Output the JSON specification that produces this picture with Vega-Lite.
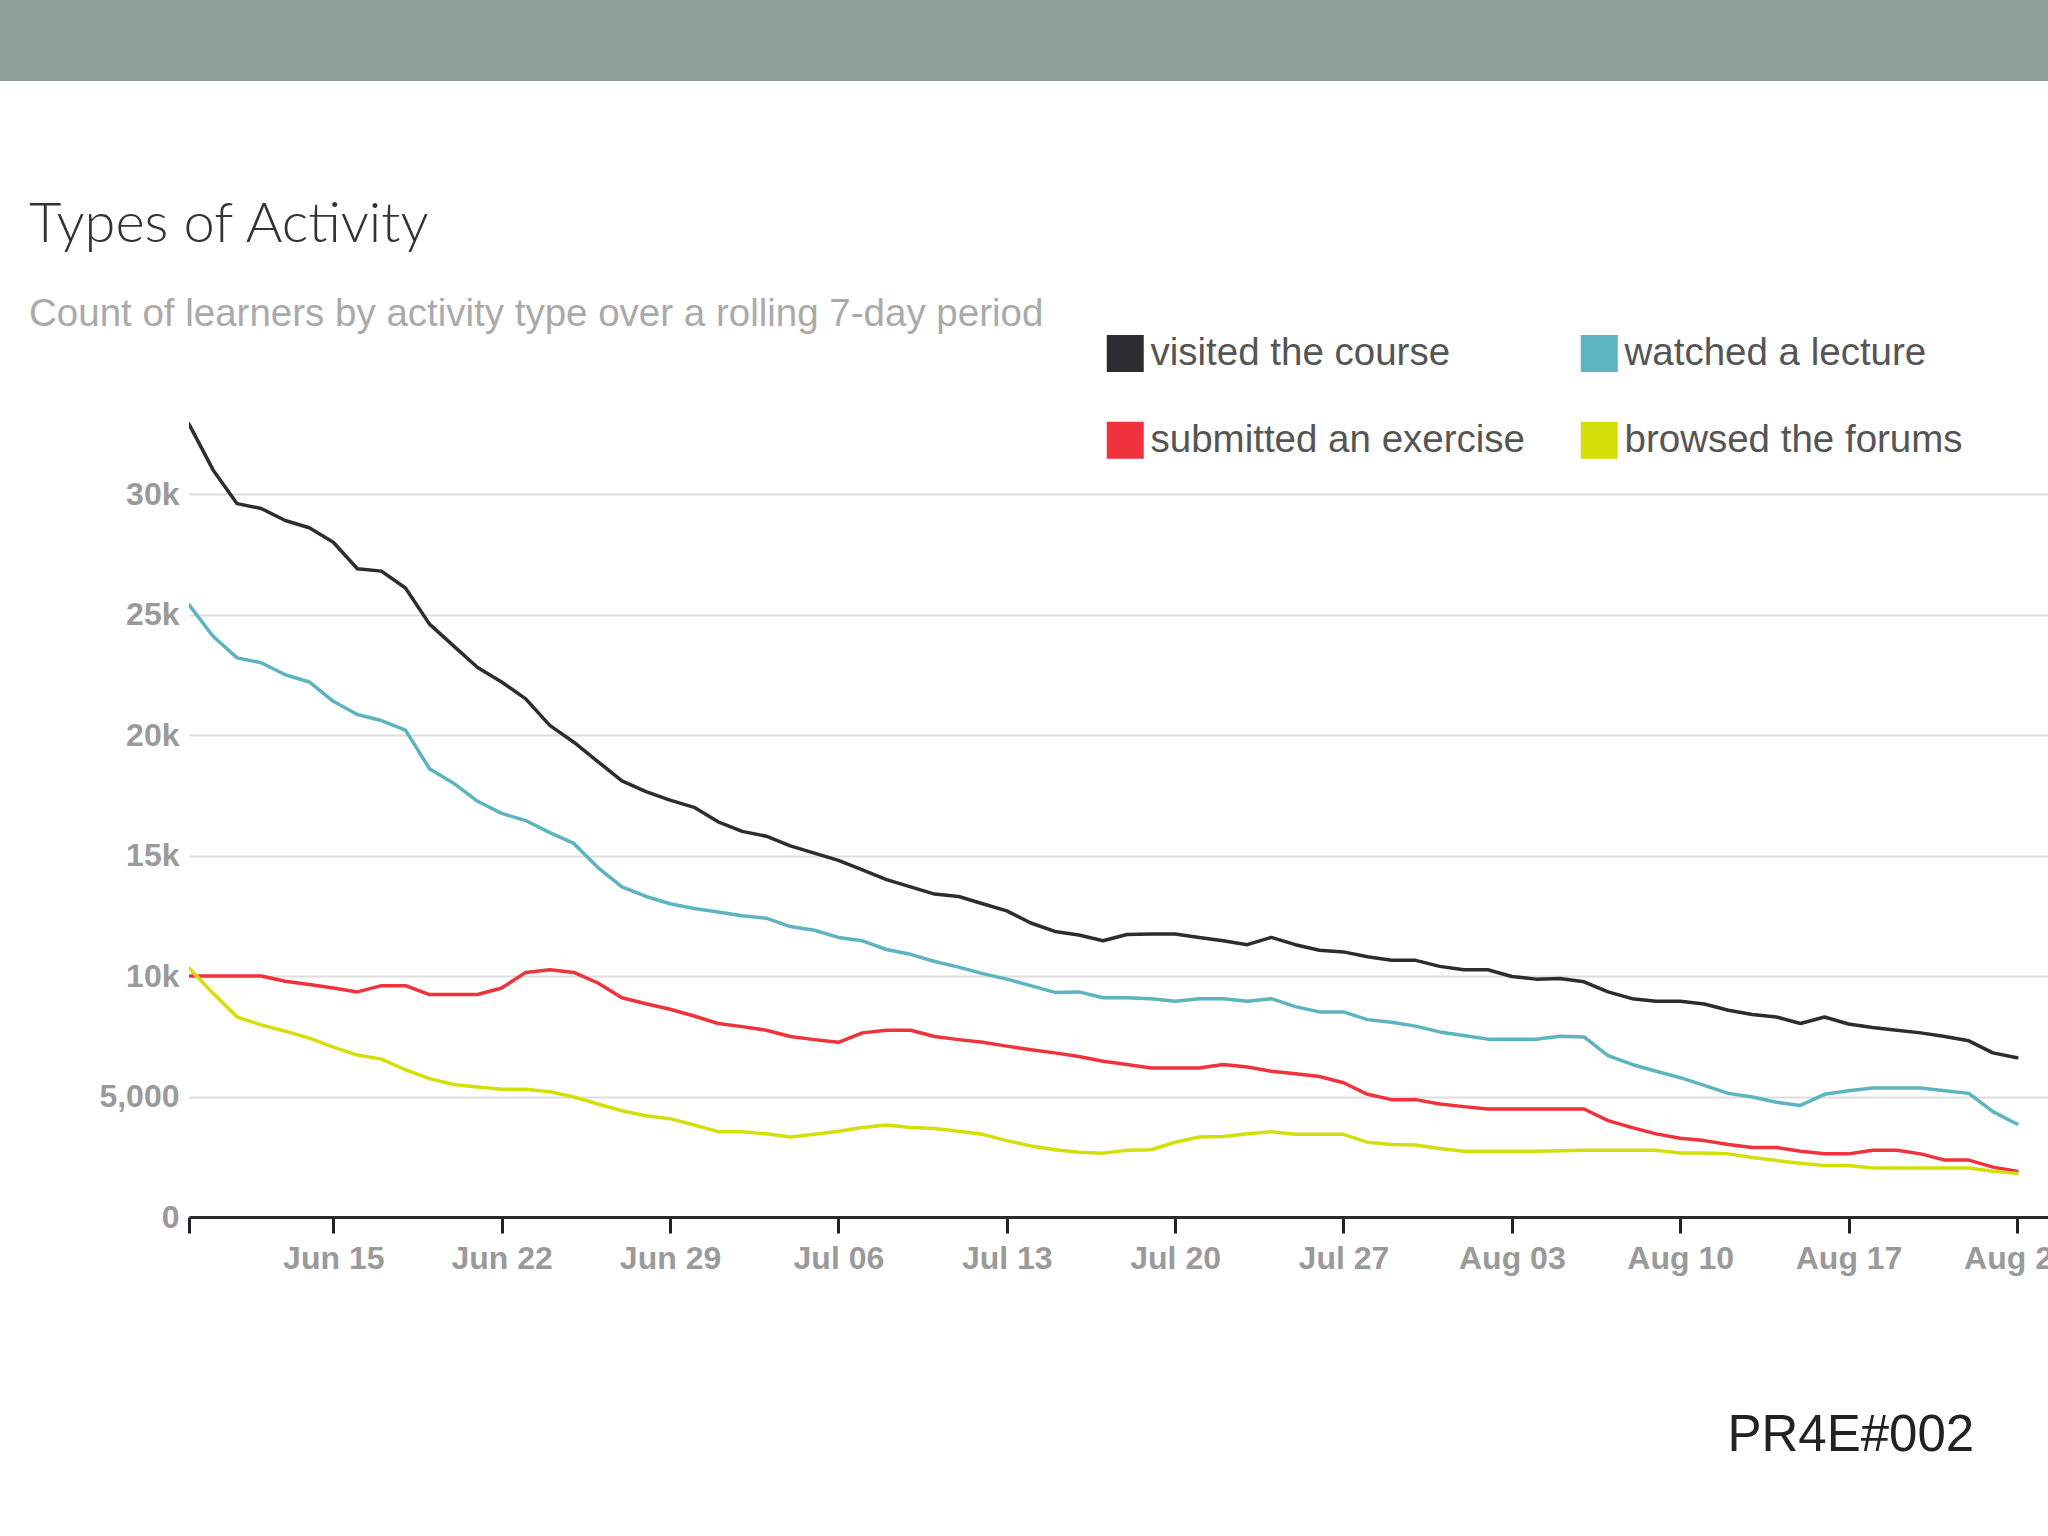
{
  "$schema": "https://vega.github.io/schema/vega-lite/v6.json",
  "padding": 0,
  "background": "#ffffff",
  "columns": 2,
  "spacing": {"row": 316, "column": 0},
  "bounds": "flush",
  "align": "each",
  "resolve": {"legend": {"color": "independent"}},
  "config": {"view": {"stroke": null}, "font": "Liberation Sans"},
  "concat": [
    {
      "width": 189,
      "height": 81,
      "view": {"fill": "#8f9f98", "stroke": null},
      "data": {"values": [{"t": ""}]},
      "mark": {"type": "text"},
      "encoding": {"text": {"field": "t", "type": "nominal"}}
    },
    {
      "width": 1859,
      "height": 81,
      "view": {"fill": "#8f9f98", "stroke": null},
      "data": {"values": [{"t": ""}]},
      "mark": {"type": "text"},
      "encoding": {"text": {"field": "t", "type": "nominal"}}
    },
    {
      "width": 189,
      "height": 1,
      "view": {"stroke": null},
      "data": {"values": [{"t": ""}]},
      "mark": {"type": "text"},
      "encoding": {"text": {"field": "t", "type": "nominal"}}
    },
    {
      "width": 1859,
      "height": 820,
      "title": {
        "text": "Types of Activity",
        "subtitle": "Count of learners by activity type over a rolling 7-day period",
        "anchor": "start",
        "frame": "group",
        "dx": -160,
        "offset": 0,
        "font": "Lato",
        "fontSize": 56,
        "fontWeight": 300,
        "color": "#333333",
        "subtitleFont": "Liberation Sans",
        "subtitleFontSize": 38.5,
        "subtitleColor": "#aaaaaa",
        "subtitlePadding": 42
      },
      "data": {
        "values": [
          {"date": "2015-06-09", "activity": "visited the course", "learners": 32900},
          {"date": "2015-06-10", "activity": "visited the course", "learners": 31000},
          {"date": "2015-06-11", "activity": "visited the course", "learners": 29600},
          {"date": "2015-06-12", "activity": "visited the course", "learners": 29400},
          {"date": "2015-06-13", "activity": "visited the course", "learners": 28900},
          {"date": "2015-06-14", "activity": "visited the course", "learners": 28600},
          {"date": "2015-06-15", "activity": "visited the course", "learners": 28000},
          {"date": "2015-06-16", "activity": "visited the course", "learners": 26900},
          {"date": "2015-06-17", "activity": "visited the course", "learners": 26800},
          {"date": "2015-06-18", "activity": "visited the course", "learners": 26100},
          {"date": "2015-06-19", "activity": "visited the course", "learners": 24600},
          {"date": "2015-06-20", "activity": "visited the course", "learners": 23700},
          {"date": "2015-06-21", "activity": "visited the course", "learners": 22800},
          {"date": "2015-06-22", "activity": "visited the course", "learners": 22200},
          {"date": "2015-06-23", "activity": "visited the course", "learners": 21500},
          {"date": "2015-06-24", "activity": "visited the course", "learners": 20400},
          {"date": "2015-06-25", "activity": "visited the course", "learners": 19700},
          {"date": "2015-06-26", "activity": "visited the course", "learners": 18900},
          {"date": "2015-06-27", "activity": "visited the course", "learners": 18100},
          {"date": "2015-06-28", "activity": "visited the course", "learners": 17650},
          {"date": "2015-06-29", "activity": "visited the course", "learners": 17300},
          {"date": "2015-06-30", "activity": "visited the course", "learners": 17000},
          {"date": "2015-07-01", "activity": "visited the course", "learners": 16400},
          {"date": "2015-07-02", "activity": "visited the course", "learners": 16000},
          {"date": "2015-07-03", "activity": "visited the course", "learners": 15800},
          {"date": "2015-07-04", "activity": "visited the course", "learners": 15400},
          {"date": "2015-07-05", "activity": "visited the course", "learners": 15100},
          {"date": "2015-07-06", "activity": "visited the course", "learners": 14800},
          {"date": "2015-07-07", "activity": "visited the course", "learners": 14400},
          {"date": "2015-07-08", "activity": "visited the course", "learners": 14000},
          {"date": "2015-07-09", "activity": "visited the course", "learners": 13700},
          {"date": "2015-07-10", "activity": "visited the course", "learners": 13400},
          {"date": "2015-07-11", "activity": "visited the course", "learners": 13300},
          {"date": "2015-07-12", "activity": "visited the course", "learners": 13000},
          {"date": "2015-07-13", "activity": "visited the course", "learners": 12700},
          {"date": "2015-07-14", "activity": "visited the course", "learners": 12200},
          {"date": "2015-07-15", "activity": "visited the course", "learners": 11850},
          {"date": "2015-07-16", "activity": "visited the course", "learners": 11700},
          {"date": "2015-07-17", "activity": "visited the course", "learners": 11460},
          {"date": "2015-07-18", "activity": "visited the course", "learners": 11720},
          {"date": "2015-07-19", "activity": "visited the course", "learners": 11740},
          {"date": "2015-07-20", "activity": "visited the course", "learners": 11740},
          {"date": "2015-07-21", "activity": "visited the course", "learners": 11600},
          {"date": "2015-07-22", "activity": "visited the course", "learners": 11460},
          {"date": "2015-07-23", "activity": "visited the course", "learners": 11300},
          {"date": "2015-07-24", "activity": "visited the course", "learners": 11600},
          {"date": "2015-07-25", "activity": "visited the course", "learners": 11300},
          {"date": "2015-07-26", "activity": "visited the course", "learners": 11070},
          {"date": "2015-07-27", "activity": "visited the course", "learners": 11000},
          {"date": "2015-07-28", "activity": "visited the course", "learners": 10800},
          {"date": "2015-07-29", "activity": "visited the course", "learners": 10650},
          {"date": "2015-07-30", "activity": "visited the course", "learners": 10650},
          {"date": "2015-07-31", "activity": "visited the course", "learners": 10400},
          {"date": "2015-08-01", "activity": "visited the course", "learners": 10260},
          {"date": "2015-08-02", "activity": "visited the course", "learners": 10260},
          {"date": "2015-08-03", "activity": "visited the course", "learners": 9980},
          {"date": "2015-08-04", "activity": "visited the course", "learners": 9870},
          {"date": "2015-08-05", "activity": "visited the course", "learners": 9900},
          {"date": "2015-08-06", "activity": "visited the course", "learners": 9760},
          {"date": "2015-08-07", "activity": "visited the course", "learners": 9340},
          {"date": "2015-08-08", "activity": "visited the course", "learners": 9060},
          {"date": "2015-08-09", "activity": "visited the course", "learners": 8950},
          {"date": "2015-08-10", "activity": "visited the course", "learners": 8950},
          {"date": "2015-08-11", "activity": "visited the course", "learners": 8840},
          {"date": "2015-08-12", "activity": "visited the course", "learners": 8580},
          {"date": "2015-08-13", "activity": "visited the course", "learners": 8400},
          {"date": "2015-08-14", "activity": "visited the course", "learners": 8300},
          {"date": "2015-08-15", "activity": "visited the course", "learners": 8030},
          {"date": "2015-08-16", "activity": "visited the course", "learners": 8300},
          {"date": "2015-08-17", "activity": "visited the course", "learners": 8010},
          {"date": "2015-08-18", "activity": "visited the course", "learners": 7860},
          {"date": "2015-08-19", "activity": "visited the course", "learners": 7750},
          {"date": "2015-08-20", "activity": "visited the course", "learners": 7640},
          {"date": "2015-08-21", "activity": "visited the course", "learners": 7490},
          {"date": "2015-08-22", "activity": "visited the course", "learners": 7310},
          {"date": "2015-08-23", "activity": "visited the course", "learners": 6810},
          {"date": "2015-08-24", "activity": "visited the course", "learners": 6610},

          {"date": "2015-06-09", "activity": "watched a lecture", "learners": 25400},
          {"date": "2015-06-10", "activity": "watched a lecture", "learners": 24100},
          {"date": "2015-06-11", "activity": "watched a lecture", "learners": 23200},
          {"date": "2015-06-12", "activity": "watched a lecture", "learners": 23000},
          {"date": "2015-06-13", "activity": "watched a lecture", "learners": 22500},
          {"date": "2015-06-14", "activity": "watched a lecture", "learners": 22200},
          {"date": "2015-06-15", "activity": "watched a lecture", "learners": 21400},
          {"date": "2015-06-16", "activity": "watched a lecture", "learners": 20850},
          {"date": "2015-06-17", "activity": "watched a lecture", "learners": 20600},
          {"date": "2015-06-18", "activity": "watched a lecture", "learners": 20200},
          {"date": "2015-06-19", "activity": "watched a lecture", "learners": 18600},
          {"date": "2015-06-20", "activity": "watched a lecture", "learners": 18000},
          {"date": "2015-06-21", "activity": "watched a lecture", "learners": 17250},
          {"date": "2015-06-22", "activity": "watched a lecture", "learners": 16750},
          {"date": "2015-06-23", "activity": "watched a lecture", "learners": 16450},
          {"date": "2015-06-24", "activity": "watched a lecture", "learners": 15950},
          {"date": "2015-06-25", "activity": "watched a lecture", "learners": 15500},
          {"date": "2015-06-26", "activity": "watched a lecture", "learners": 14500},
          {"date": "2015-06-27", "activity": "watched a lecture", "learners": 13700},
          {"date": "2015-06-28", "activity": "watched a lecture", "learners": 13300},
          {"date": "2015-06-29", "activity": "watched a lecture", "learners": 13000},
          {"date": "2015-06-30", "activity": "watched a lecture", "learners": 12800},
          {"date": "2015-07-01", "activity": "watched a lecture", "learners": 12660},
          {"date": "2015-07-02", "activity": "watched a lecture", "learners": 12500},
          {"date": "2015-07-03", "activity": "watched a lecture", "learners": 12400},
          {"date": "2015-07-04", "activity": "watched a lecture", "learners": 12050},
          {"date": "2015-07-05", "activity": "watched a lecture", "learners": 11900},
          {"date": "2015-07-06", "activity": "watched a lecture", "learners": 11600},
          {"date": "2015-07-07", "activity": "watched a lecture", "learners": 11460},
          {"date": "2015-07-08", "activity": "watched a lecture", "learners": 11100},
          {"date": "2015-07-09", "activity": "watched a lecture", "learners": 10900},
          {"date": "2015-07-10", "activity": "watched a lecture", "learners": 10600},
          {"date": "2015-07-11", "activity": "watched a lecture", "learners": 10370},
          {"date": "2015-07-12", "activity": "watched a lecture", "learners": 10100},
          {"date": "2015-07-13", "activity": "watched a lecture", "learners": 9870},
          {"date": "2015-07-14", "activity": "watched a lecture", "learners": 9600},
          {"date": "2015-07-15", "activity": "watched a lecture", "learners": 9320},
          {"date": "2015-07-16", "activity": "watched a lecture", "learners": 9340},
          {"date": "2015-07-17", "activity": "watched a lecture", "learners": 9100},
          {"date": "2015-07-18", "activity": "watched a lecture", "learners": 9100},
          {"date": "2015-07-19", "activity": "watched a lecture", "learners": 9060},
          {"date": "2015-07-20", "activity": "watched a lecture", "learners": 8950},
          {"date": "2015-07-21", "activity": "watched a lecture", "learners": 9060},
          {"date": "2015-07-22", "activity": "watched a lecture", "learners": 9060},
          {"date": "2015-07-23", "activity": "watched a lecture", "learners": 8950},
          {"date": "2015-07-24", "activity": "watched a lecture", "learners": 9060},
          {"date": "2015-07-25", "activity": "watched a lecture", "learners": 8730},
          {"date": "2015-07-26", "activity": "watched a lecture", "learners": 8510},
          {"date": "2015-07-27", "activity": "watched a lecture", "learners": 8510},
          {"date": "2015-07-28", "activity": "watched a lecture", "learners": 8190},
          {"date": "2015-07-29", "activity": "watched a lecture", "learners": 8080},
          {"date": "2015-07-30", "activity": "watched a lecture", "learners": 7920},
          {"date": "2015-07-31", "activity": "watched a lecture", "learners": 7680},
          {"date": "2015-08-01", "activity": "watched a lecture", "learners": 7530},
          {"date": "2015-08-02", "activity": "watched a lecture", "learners": 7380},
          {"date": "2015-08-03", "activity": "watched a lecture", "learners": 7380},
          {"date": "2015-08-04", "activity": "watched a lecture", "learners": 7380},
          {"date": "2015-08-05", "activity": "watched a lecture", "learners": 7500},
          {"date": "2015-08-06", "activity": "watched a lecture", "learners": 7470},
          {"date": "2015-08-07", "activity": "watched a lecture", "learners": 6700},
          {"date": "2015-08-08", "activity": "watched a lecture", "learners": 6330},
          {"date": "2015-08-09", "activity": "watched a lecture", "learners": 6050},
          {"date": "2015-08-10", "activity": "watched a lecture", "learners": 5780},
          {"date": "2015-08-11", "activity": "watched a lecture", "learners": 5460},
          {"date": "2015-08-12", "activity": "watched a lecture", "learners": 5130},
          {"date": "2015-08-13", "activity": "watched a lecture", "learners": 4980},
          {"date": "2015-08-14", "activity": "watched a lecture", "learners": 4760},
          {"date": "2015-08-15", "activity": "watched a lecture", "learners": 4630},
          {"date": "2015-08-16", "activity": "watched a lecture", "learners": 5090},
          {"date": "2015-08-17", "activity": "watched a lecture", "learners": 5240},
          {"date": "2015-08-18", "activity": "watched a lecture", "learners": 5350},
          {"date": "2015-08-19", "activity": "watched a lecture", "learners": 5350},
          {"date": "2015-08-20", "activity": "watched a lecture", "learners": 5350},
          {"date": "2015-08-21", "activity": "watched a lecture", "learners": 5240},
          {"date": "2015-08-22", "activity": "watched a lecture", "learners": 5130},
          {"date": "2015-08-23", "activity": "watched a lecture", "learners": 4370},
          {"date": "2015-08-24", "activity": "watched a lecture", "learners": 3860},

          {"date": "2015-06-09", "activity": "submitted an exercise", "learners": 10000},
          {"date": "2015-06-10", "activity": "submitted an exercise", "learners": 10000},
          {"date": "2015-06-11", "activity": "submitted an exercise", "learners": 10000},
          {"date": "2015-06-12", "activity": "submitted an exercise", "learners": 10000},
          {"date": "2015-06-13", "activity": "submitted an exercise", "learners": 9780},
          {"date": "2015-06-14", "activity": "submitted an exercise", "learners": 9650},
          {"date": "2015-06-15", "activity": "submitted an exercise", "learners": 9500},
          {"date": "2015-06-16", "activity": "submitted an exercise", "learners": 9340},
          {"date": "2015-06-17", "activity": "submitted an exercise", "learners": 9600},
          {"date": "2015-06-18", "activity": "submitted an exercise", "learners": 9600},
          {"date": "2015-06-19", "activity": "submitted an exercise", "learners": 9230},
          {"date": "2015-06-20", "activity": "submitted an exercise", "learners": 9230},
          {"date": "2015-06-21", "activity": "submitted an exercise", "learners": 9230},
          {"date": "2015-06-22", "activity": "submitted an exercise", "learners": 9500},
          {"date": "2015-06-23", "activity": "submitted an exercise", "learners": 10150},
          {"date": "2015-06-24", "activity": "submitted an exercise", "learners": 10260},
          {"date": "2015-06-25", "activity": "submitted an exercise", "learners": 10150},
          {"date": "2015-06-26", "activity": "submitted an exercise", "learners": 9710},
          {"date": "2015-06-27", "activity": "submitted an exercise", "learners": 9100},
          {"date": "2015-06-28", "activity": "submitted an exercise", "learners": 8850},
          {"date": "2015-06-29", "activity": "submitted an exercise", "learners": 8620},
          {"date": "2015-06-30", "activity": "submitted an exercise", "learners": 8340},
          {"date": "2015-07-01", "activity": "submitted an exercise", "learners": 8030},
          {"date": "2015-07-02", "activity": "submitted an exercise", "learners": 7900},
          {"date": "2015-07-03", "activity": "submitted an exercise", "learners": 7750},
          {"date": "2015-07-04", "activity": "submitted an exercise", "learners": 7490},
          {"date": "2015-07-05", "activity": "submitted an exercise", "learners": 7360},
          {"date": "2015-07-06", "activity": "submitted an exercise", "learners": 7250},
          {"date": "2015-07-07", "activity": "submitted an exercise", "learners": 7640},
          {"date": "2015-07-08", "activity": "submitted an exercise", "learners": 7750},
          {"date": "2015-07-09", "activity": "submitted an exercise", "learners": 7750},
          {"date": "2015-07-10", "activity": "submitted an exercise", "learners": 7490},
          {"date": "2015-07-11", "activity": "submitted an exercise", "learners": 7360},
          {"date": "2015-07-12", "activity": "submitted an exercise", "learners": 7250},
          {"date": "2015-07-13", "activity": "submitted an exercise", "learners": 7090},
          {"date": "2015-07-14", "activity": "submitted an exercise", "learners": 6940},
          {"date": "2015-07-15", "activity": "submitted an exercise", "learners": 6810},
          {"date": "2015-07-16", "activity": "submitted an exercise", "learners": 6660},
          {"date": "2015-07-17", "activity": "submitted an exercise", "learners": 6460},
          {"date": "2015-07-18", "activity": "submitted an exercise", "learners": 6330},
          {"date": "2015-07-19", "activity": "submitted an exercise", "learners": 6180},
          {"date": "2015-07-20", "activity": "submitted an exercise", "learners": 6180},
          {"date": "2015-07-21", "activity": "submitted an exercise", "learners": 6180},
          {"date": "2015-07-22", "activity": "submitted an exercise", "learners": 6330},
          {"date": "2015-07-23", "activity": "submitted an exercise", "learners": 6220},
          {"date": "2015-07-24", "activity": "submitted an exercise", "learners": 6050},
          {"date": "2015-07-25", "activity": "submitted an exercise", "learners": 5940},
          {"date": "2015-07-26", "activity": "submitted an exercise", "learners": 5830},
          {"date": "2015-07-27", "activity": "submitted an exercise", "learners": 5570},
          {"date": "2015-07-28", "activity": "submitted an exercise", "learners": 5090},
          {"date": "2015-07-29", "activity": "submitted an exercise", "learners": 4870},
          {"date": "2015-07-30", "activity": "submitted an exercise", "learners": 4870},
          {"date": "2015-07-31", "activity": "submitted an exercise", "learners": 4690},
          {"date": "2015-08-01", "activity": "submitted an exercise", "learners": 4580},
          {"date": "2015-08-02", "activity": "submitted an exercise", "learners": 4480},
          {"date": "2015-08-03", "activity": "submitted an exercise", "learners": 4480},
          {"date": "2015-08-04", "activity": "submitted an exercise", "learners": 4480},
          {"date": "2015-08-05", "activity": "submitted an exercise", "learners": 4480},
          {"date": "2015-08-06", "activity": "submitted an exercise", "learners": 4480},
          {"date": "2015-08-07", "activity": "submitted an exercise", "learners": 4000},
          {"date": "2015-08-08", "activity": "submitted an exercise", "learners": 3710},
          {"date": "2015-08-09", "activity": "submitted an exercise", "learners": 3450},
          {"date": "2015-08-10", "activity": "submitted an exercise", "learners": 3270},
          {"date": "2015-08-11", "activity": "submitted an exercise", "learners": 3170},
          {"date": "2015-08-12", "activity": "submitted an exercise", "learners": 3010},
          {"date": "2015-08-13", "activity": "submitted an exercise", "learners": 2880},
          {"date": "2015-08-14", "activity": "submitted an exercise", "learners": 2880},
          {"date": "2015-08-15", "activity": "submitted an exercise", "learners": 2730},
          {"date": "2015-08-16", "activity": "submitted an exercise", "learners": 2620},
          {"date": "2015-08-17", "activity": "submitted an exercise", "learners": 2620},
          {"date": "2015-08-18", "activity": "submitted an exercise", "learners": 2770},
          {"date": "2015-08-19", "activity": "submitted an exercise", "learners": 2770},
          {"date": "2015-08-20", "activity": "submitted an exercise", "learners": 2620},
          {"date": "2015-08-21", "activity": "submitted an exercise", "learners": 2360},
          {"date": "2015-08-22", "activity": "submitted an exercise", "learners": 2360},
          {"date": "2015-08-23", "activity": "submitted an exercise", "learners": 2070},
          {"date": "2015-08-24", "activity": "submitted an exercise", "learners": 1900},

          {"date": "2015-06-09", "activity": "browsed the forums", "learners": 10330},
          {"date": "2015-06-10", "activity": "browsed the forums", "learners": 9280},
          {"date": "2015-06-11", "activity": "browsed the forums", "learners": 8300},
          {"date": "2015-06-12", "activity": "browsed the forums", "learners": 7970},
          {"date": "2015-06-13", "activity": "browsed the forums", "learners": 7710},
          {"date": "2015-06-14", "activity": "browsed the forums", "learners": 7420},
          {"date": "2015-06-15", "activity": "browsed the forums", "learners": 7050},
          {"date": "2015-06-16", "activity": "browsed the forums", "learners": 6720},
          {"date": "2015-06-17", "activity": "browsed the forums", "learners": 6550},
          {"date": "2015-06-18", "activity": "browsed the forums", "learners": 6110},
          {"date": "2015-06-19", "activity": "browsed the forums", "learners": 5740},
          {"date": "2015-06-20", "activity": "browsed the forums", "learners": 5500},
          {"date": "2015-06-21", "activity": "browsed the forums", "learners": 5390},
          {"date": "2015-06-22", "activity": "browsed the forums", "learners": 5300},
          {"date": "2015-06-23", "activity": "browsed the forums", "learners": 5300},
          {"date": "2015-06-24", "activity": "browsed the forums", "learners": 5200},
          {"date": "2015-06-25", "activity": "browsed the forums", "learners": 4980},
          {"date": "2015-06-26", "activity": "browsed the forums", "learners": 4690},
          {"date": "2015-06-27", "activity": "browsed the forums", "learners": 4410},
          {"date": "2015-06-28", "activity": "browsed the forums", "learners": 4200},
          {"date": "2015-06-29", "activity": "browsed the forums", "learners": 4080},
          {"date": "2015-06-30", "activity": "browsed the forums", "learners": 3820},
          {"date": "2015-07-01", "activity": "browsed the forums", "learners": 3540},
          {"date": "2015-07-02", "activity": "browsed the forums", "learners": 3540},
          {"date": "2015-07-03", "activity": "browsed the forums", "learners": 3450},
          {"date": "2015-07-04", "activity": "browsed the forums", "learners": 3320},
          {"date": "2015-07-05", "activity": "browsed the forums", "learners": 3430},
          {"date": "2015-07-06", "activity": "browsed the forums", "learners": 3560},
          {"date": "2015-07-07", "activity": "browsed the forums", "learners": 3710},
          {"date": "2015-07-08", "activity": "browsed the forums", "learners": 3820},
          {"date": "2015-07-09", "activity": "browsed the forums", "learners": 3710},
          {"date": "2015-07-10", "activity": "browsed the forums", "learners": 3670},
          {"date": "2015-07-11", "activity": "browsed the forums", "learners": 3560},
          {"date": "2015-07-12", "activity": "browsed the forums", "learners": 3430},
          {"date": "2015-07-13", "activity": "browsed the forums", "learners": 3170},
          {"date": "2015-07-14", "activity": "browsed the forums", "learners": 2950},
          {"date": "2015-07-15", "activity": "browsed the forums", "learners": 2790},
          {"date": "2015-07-16", "activity": "browsed the forums", "learners": 2690},
          {"date": "2015-07-17", "activity": "browsed the forums", "learners": 2650},
          {"date": "2015-07-18", "activity": "browsed the forums", "learners": 2770},
          {"date": "2015-07-19", "activity": "browsed the forums", "learners": 2790},
          {"date": "2015-07-20", "activity": "browsed the forums", "learners": 3100},
          {"date": "2015-07-21", "activity": "browsed the forums", "learners": 3320},
          {"date": "2015-07-22", "activity": "browsed the forums", "learners": 3340},
          {"date": "2015-07-23", "activity": "browsed the forums", "learners": 3450},
          {"date": "2015-07-24", "activity": "browsed the forums", "learners": 3540},
          {"date": "2015-07-25", "activity": "browsed the forums", "learners": 3430},
          {"date": "2015-07-26", "activity": "browsed the forums", "learners": 3430},
          {"date": "2015-07-27", "activity": "browsed the forums", "learners": 3430},
          {"date": "2015-07-28", "activity": "browsed the forums", "learners": 3100},
          {"date": "2015-07-29", "activity": "browsed the forums", "learners": 3010},
          {"date": "2015-07-30", "activity": "browsed the forums", "learners": 2990},
          {"date": "2015-07-31", "activity": "browsed the forums", "learners": 2840},
          {"date": "2015-08-01", "activity": "browsed the forums", "learners": 2730},
          {"date": "2015-08-02", "activity": "browsed the forums", "learners": 2730},
          {"date": "2015-08-03", "activity": "browsed the forums", "learners": 2730},
          {"date": "2015-08-04", "activity": "browsed the forums", "learners": 2730},
          {"date": "2015-08-05", "activity": "browsed the forums", "learners": 2750},
          {"date": "2015-08-06", "activity": "browsed the forums", "learners": 2770},
          {"date": "2015-08-07", "activity": "browsed the forums", "learners": 2770},
          {"date": "2015-08-08", "activity": "browsed the forums", "learners": 2770},
          {"date": "2015-08-09", "activity": "browsed the forums", "learners": 2770},
          {"date": "2015-08-10", "activity": "browsed the forums", "learners": 2660},
          {"date": "2015-08-11", "activity": "browsed the forums", "learners": 2660},
          {"date": "2015-08-12", "activity": "browsed the forums", "learners": 2620},
          {"date": "2015-08-13", "activity": "browsed the forums", "learners": 2470},
          {"date": "2015-08-14", "activity": "browsed the forums", "learners": 2340},
          {"date": "2015-08-15", "activity": "browsed the forums", "learners": 2230},
          {"date": "2015-08-16", "activity": "browsed the forums", "learners": 2140},
          {"date": "2015-08-17", "activity": "browsed the forums", "learners": 2140},
          {"date": "2015-08-18", "activity": "browsed the forums", "learners": 2030},
          {"date": "2015-08-19", "activity": "browsed the forums", "learners": 2030},
          {"date": "2015-08-20", "activity": "browsed the forums", "learners": 2030},
          {"date": "2015-08-21", "activity": "browsed the forums", "learners": 2030},
          {"date": "2015-08-22", "activity": "browsed the forums", "learners": 2030},
          {"date": "2015-08-23", "activity": "browsed the forums", "learners": 1900},
          {"date": "2015-08-24", "activity": "browsed the forums", "learners": 1810}
        ]
      },
      "mark": {"type": "line", "strokeWidth": 3.5, "strokeJoin": "round", "strokeCap": "round", "clip": true},
      "encoding": {
        "x": {
          "field": "date",
          "type": "temporal",
          "scale": {
            "type": "utc",
            "domain": [
              {"year": 2015, "month": 6, "date": 9, "utc": true},
              {"year": 2015, "month": 8, "date": 25, "hours": 7, "utc": true}
            ]
          },
          "axis": {
            "values": [
              {"year": 2015, "month": 6, "date": 9, "utc": true},
              {"year": 2015, "month": 6, "date": 15, "utc": true},
              {"year": 2015, "month": 6, "date": 22, "utc": true},
              {"year": 2015, "month": 6, "date": 29, "utc": true},
              {"year": 2015, "month": 7, "date": 6, "utc": true},
              {"year": 2015, "month": 7, "date": 13, "utc": true},
              {"year": 2015, "month": 7, "date": 20, "utc": true},
              {"year": 2015, "month": 7, "date": 27, "utc": true},
              {"year": 2015, "month": 8, "date": 3, "utc": true},
              {"year": 2015, "month": 8, "date": 10, "utc": true},
              {"year": 2015, "month": 8, "date": 17, "utc": true},
              {"year": 2015, "month": 8, "date": 24, "utc": true}
            ],
            "labelExpr": "utcFormat(datum.value, '%b %d') == 'Jun 09' ? '' : utcFormat(datum.value, '%b %d')",
            "grid": false,
            "domainColor": "#2a2a2a",
            "domainWidth": 3,
            "tickColor": "#222222",
            "tickWidth": 3,
            "tickSize": 16,
            "labelPadding": 10,
            "labelFont": "Liberation Sans",
            "labelFontSize": 32,
            "labelFontWeight": "bold",
            "labelColor": "#9a9a9a",
            "labelOverlap": false,
            "labelFlush": false,
            "title": "PR4E#002",
            "titleX": 1538,
            "titleY": 233,
            "titleAlign": "left",
            "titleBaseline": "alphabetic",
            "titleFont": "Liberation Sans",
            "titleFontSize": 51,
            "titleFontWeight": "normal",
            "titleColor": "#222222"
          }
        },
        "y": {
          "field": "learners",
          "type": "quantitative",
          "scale": {"domain": [0, 34025], "nice": false, "zero": true},
          "axis": {
            "values": [0, 5000, 10000, 15000, 20000, 25000, 30000],
            "labelExpr": "datum.value >= 10000 ? format(datum.value / 1000, 'd') + 'k' : format(datum.value, ',')",
            "title": null,
            "domain": false,
            "ticks": false,
            "grid": true,
            "gridColor": "#dddddd",
            "gridWidth": 2,
            "labelPadding": 10,
            "labelFont": "Liberation Sans",
            "labelFontSize": 32,
            "labelFontWeight": "bold",
            "labelColor": "#9a9a9a"
          }
        },
        "color": {
          "field": "activity",
          "type": "nominal",
          "scale": {
            "domain": ["visited the course", "watched a lecture", "submitted an exercise", "browsed the forums"],
            "range": ["#2c2c31", "#5bb4bf", "#f0323c", "#d4df0a"]
          },
          "legend": {
            "orient": "none",
            "legendX": 917,
            "legendY": -63,
            "columns": 2,
            "direction": "horizontal",
            "title": null,
            "symbolType": "square",
            "symbolSize": 1369,
            "symbolStrokeWidth": 0,
            "symbolOpacity": 1,
            "labelFont": "Liberation Sans",
            "labelFontSize": 38.5,
            "labelColor": "#555555",
            "labelOffset": 6,
            "columnPadding": 55,
            "rowPadding": 48,
            "padding": 0,
            "labelLimit": 0,
            "encode": {
              "symbols": {
                "update": {
                  "fill": {"scale": "color", "field": "value"},
                  "fillOpacity": {"value": 1}
                }
              }
            }
          }
        }
      }
    }
  ]
}
